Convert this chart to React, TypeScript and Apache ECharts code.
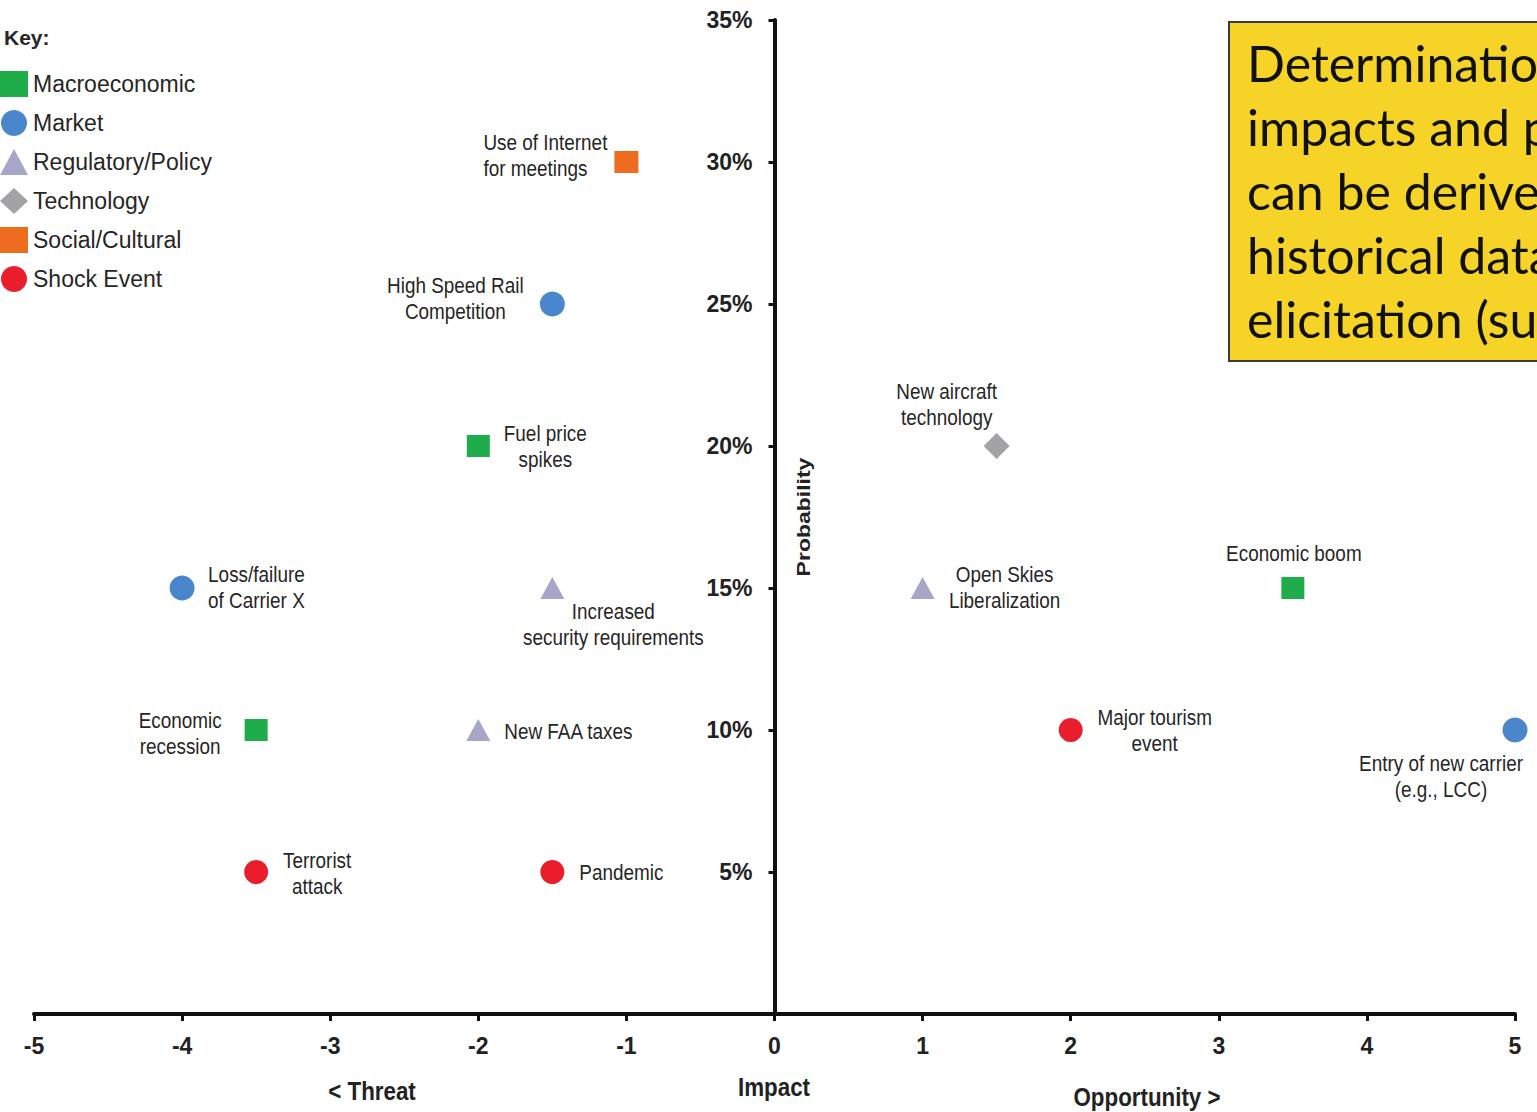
import React, { useEffect, useRef } from "react";
import * as echarts from "echarts";

// Risk factor categories (legend order) and their marker styles
const categories = [
  "Macroeconomic",
  "Market",
  "Regulatory/Policy",
  "Technology",
  "Social/Cultural",
  "Shock Event",
];
const categoryColors = ["#1fad4c", "#4a86cb", "#a7a6c8", "#a3a3a5", "#ee6c20", "#ea1d2c"];
const categorySymbols = ["rect", "circle", "triangle", "diamond", "rect", "circle"];
const categorySymbolSizes = [[23, 22], 25, [24, 22], 26, [24, 22], 24];

// Factors: name, category index, impact (-5 threat .. +5 opportunity), probability (%)
const factorNames = [
  "Use of Internet\nfor meetings",
  "High Speed Rail\nCompetition",
  "Fuel price\nspikes",
  "Loss/failure\nof Carrier X",
  "Increased\nsecurity requirements",
  "Economic\nrecession",
  "New FAA taxes",
  "Terrorist\nattack",
  "Pandemic",
  "New aircraft\ntechnology",
  "Open Skies\nLiberalization",
  "Economic boom",
  "Major tourism\nevent",
  "Entry of new carrier\n(e.g., LCC)",
];
const factorCategory = [4, 1, 0, 1, 2, 0, 2, 5, 5, 3, 2, 0, 5, 1];
const impactValues = [-1, -1.5, -2, -4, -1.5, -3.5, -2, -3.5, -1.5, 1.5, 1, 3.5, 2, 5];
const probabilityValues = [30, 25, 20, 15, 15, 10, 10, 5, 5, 20, 15, 15, 10, 10];

// Axis ranges
const impactMin = -5;
const impactMax = 5;
const probabilityMin = 0;
const probabilityMax = 35;
const probabilityStep = 5;

// Label placement around each marker: [dx, dy, align]
const labelPlacement: [number, number, string][] = [
  [-143, -7, "left"],
  [-97, -6, "center"],
  [67, 0, "center"],
  [26, -1, "left"],
  [61, 36, "center"],
  [-76, 3, "center"],
  [26, 1, "left"],
  [61, 1, "center"],
  [27, 0, "left"],
  [-50, -42, "center"],
  [82, -1, "center"],
  [1, -35, "center"],
  [84, 0, "center"],
  [-74, 46, "center"],
];

const boxLines = [
  "Determination of",
  "impacts and probabilities",
  "can be derived from",
  "historical data or expert",
  "elicitation (surveys)",
];

const SANS = '"Liberation Sans", Arial, Helvetica, sans-serif';
const NARROW_SCALE = 0.86;

const GRID = { left: 34, right: 22, top: 20, bottom: 98 };
const WIDTH = 1537;
const HEIGHT = 1112;

export default function App() {
  const ref = useRef<HTMLDivElement>(null);

  useEffect(() => {
    if (!ref.current) return;
    const chart = echarts.init(ref.current, undefined, { renderer: "svg" });

    // Shift the probability axis so that it crosses the impact axis at zero
    const gridWidth = WIDTH - GRID.left - GRID.right;
    const yAxisShift = -gridWidth * ((0 - impactMin) / (impactMax - impactMin));

    const markerSeries = categories.map((cat, ci) => ({
      name: cat,
      type: "scatter",
      clip: false,
      symbol: categorySymbols[ci],
      symbolSize: categorySymbolSizes[ci],
      itemStyle: { color: categoryColors[ci], opacity: 1 },
      z: 3,
      data: factorNames
        .map((n, i) => ({ n, i }))
        .filter(({ i }) => factorCategory[i] === ci)
        .map(({ n, i }) => ({ name: n, value: [impactValues[i], probabilityValues[i]] })),
      emphasis: { disabled: true },
    }));

    // Condensed factor labels placed next to each marker
    const labelSeries = {
      name: "labels",
      type: "custom",
      coordinateSystem: "cartesian2d",
      silent: true,
      z: 4,
      data: factorNames.map((_, i) => [impactValues[i], probabilityValues[i], i]),
      renderItem: (_params: any, api: any) => {
        const i = api.value(2);
        const [px, py] = api.coord([api.value(0), api.value(1)]);
        const [dx, dy, align] = labelPlacement[i];
        return {
          type: "text",
          x: px + dx,
          y: py + dy,
          scaleX: NARROW_SCALE,
          style: {
            text: factorNames[i],
            align,
            verticalAlign: "middle",
            fontFamily: SANS,
            fontSize: 22,
            lineHeight: 26,
            fill: "#262626",
          },
        };
      },
    };

    const axisName = (text: string, x: number, y: number, rotation = 0) => ({
      type: "text",
      x,
      y,
      rotation,
      scaleX: rotation ? 1 : 0.86,
      scaleY: rotation ? 0.8 : 1,
      style: {
        text,
        fontFamily: SANS,
        fontSize: rotation ? 23 : 26,
        fontWeight: "bold",
        fill: "#222",
        align: "center",
        verticalAlign: "middle",
      },
    });

    chart.setOption({
      animation: false,
      backgroundColor: "#ffffff",
      grid: { ...GRID, containLabel: false, outerBoundsMode: "none" },
      legend: {
        orient: "vertical",
        left: 0,
        top: 71,
        padding: 0,
        itemWidth: 28,
        itemHeight: 26,
        itemGap: 13,
        selectedMode: false,
        textStyle: { fontFamily: SANS, fontSize: 23, color: "#262626" },
        data: categories.map((c, ci) => ({ name: c, icon: categorySymbols[ci] })),
      },
      xAxis: {
        type: "value",
        min: impactMin,
        max: impactMax,
        interval: 1,
        splitLine: { show: false },
        axisLine: { onZero: false, lineStyle: { color: "#111", width: 4 } },
        axisTick: { show: true, inside: false, length: 7, lineStyle: { color: "#111", width: 3 } },
        axisLabel: {
          margin: 20,
          fontFamily: SANS,
          fontSize: 23,
          fontWeight: "bold",
          color: "#222",
        },
      },
      yAxis: {
        type: "value",
        min: probabilityMin,
        max: probabilityMax,
        interval: probabilityStep,
        offset: yAxisShift,
        splitLine: { show: false },
        axisLine: { onZero: false, lineStyle: { color: "#111", width: 4 } },
        axisTick: { show: true, inside: false, length: 6, lineStyle: { color: "#111", width: 3 } },
        axisLabel: {
          showMinLabel: false,
          margin: 22,
          fontFamily: SANS,
          fontSize: 23,
          fontWeight: "bold",
          color: "#222",
          formatter: (v: number) => `${v}%`,
        },
      },
      graphic: [
        {
          type: "text",
          left: 4,
          top: 27,
          style: { text: "Key:", fontFamily: SANS, fontSize: 21, fontWeight: "bold", fill: "#262626" },
        },
        axisName("Probability", 803, 517, Math.PI / 2),
        axisName("< Threat", 372, 1091),
        axisName("Impact", 774, 1087),
        axisName("Opportunity >", 1147, 1097),
        {
          type: "group",
          x: 1229,
          y: 22,
          children: [
            {
              type: "rect",
              shape: { x: 0, y: 0, width: 420, height: 339 },
              style: { fill: "#f5d327", stroke: "#3a3a3a", lineWidth: 2 },
            },
            {
              type: "text",
              x: 18,
              y: 9,
              style: {
                text: boxLines.join("\n"),
                fontFamily: "Lato, sans-serif",
                fontSize: 50,
                lineHeight: 64,
                fill: "#111",
                verticalAlign: "top",
              },
            },
          ],
        },
      ],
      series: [...markerSeries, labelSeries],
    });

    return () => chart.dispose();
  }, []);

  return (
    <div
      ref={ref}
      style={{ position: "fixed", left: 0, top: 0, width: WIDTH, height: HEIGHT, background: "#fff" }}
    />
  );
}
